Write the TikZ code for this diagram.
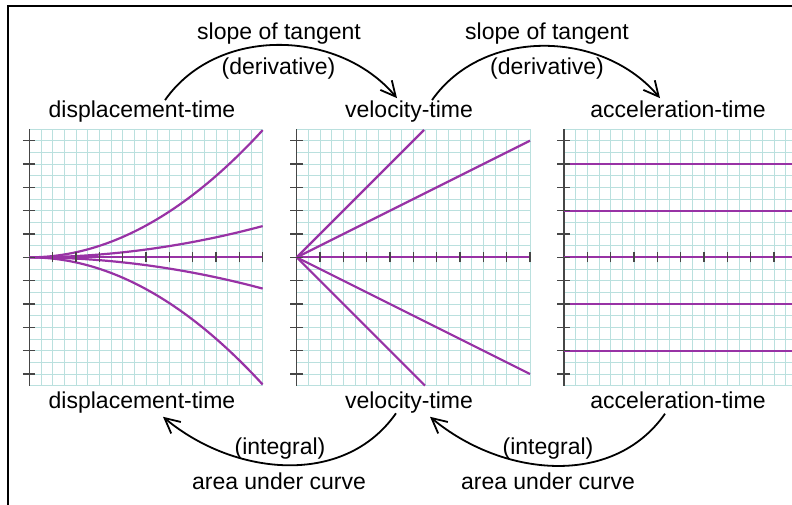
\documentclass[tikz,border=0pt]{standalone}
\usepackage{fontspec}
\setmainfont{Liberation Sans}
\usetikzlibrary{arrows.meta}
\definecolor{gridc}{RGB}{186,224,222}
\definecolor{curvec}{RGB}{152,50,165}
\definecolor{axisc}{RGB}{70,70,70}
\begin{document}
\begin{tikzpicture}[x=1pt,y=-1pt,
  lab/.style={font=\fontsize{23}{27}\selectfont, inner sep=0pt, anchor=base},
  arcline/.style={line width=1.8pt, -{Straight Barb[length=15pt,width=15pt]}},
  gridline/.style={gridc, line width=0.75pt},
  curve/.style={curvec, line width=2.2pt},
  axisline/.style={axisc, line width=1.3pt},
  tickline/.style={axisc, line width=1.1pt}]
\useasboundingbox (0,0) rectangle (792,504);
\clip (0,0) rectangle (792,504);
% grids and axes
\foreach \ox in {29.33,296.67,564} {
  \begin{scope}[shift={(\ox,257.33)}, x=23.333pt, y=23.333pt]
    \foreach \i in {0,...,20} \draw[gridline] (\i/2,-5.5) -- (\i/2,5.5);
    \foreach \j in {-11,...,11} \draw[gridline] (0,\j/2) -- (10,\j/2);
    \draw[axisline] (0,-5.5) -- (0,5.5);
  \end{scope}
}
% graph 1: displacement-time
\begin{scope}[shift={(29.33,257.33)}, x=23.333pt, y=23.333pt]
  \draw[curve] plot[domain=0:10, smooth, samples=40] (\x, {0.0545*\x*\x});
  \draw[curve] plot[domain=0:10, smooth, samples=40] (\x, {0.0134*\x*\x});
  \draw[curve] (0,0) -- (10,0);
  \draw[curve] plot[domain=0:10, smooth, samples=40] (\x, {-0.0134*\x*\x});
  \draw[curve] plot[domain=0:10, smooth, samples=40] (\x, {-0.0545*\x*\x});
  \foreach \k in {-5,...,5} \draw[tickline] (-0.28,\k) -- (0.25,\k);
  \foreach \k in {1,...,10} \draw[tickline] (\k,-0.22) -- (\k,0.22);
\end{scope}
% graph 2: velocity-time
\begin{scope}[shift={(296.67,257.33)}, x=23.333pt, y=23.333pt]
  \draw[curve] (0,0) -- (5.46,5.46);
  \draw[curve] (0,0) -- (10,5);
  \draw[curve] (0,0) -- (10,0);
  \draw[curve] (0,0) -- (10,-5);
  \draw[curve] (0,0) -- (5.5,-5.5);
  \foreach \k in {-5,...,5} \draw[tickline] (-0.28,\k) -- (0.25,\k);
  \foreach \k in {1,...,10} \draw[tickline] (\k,-0.22) -- (\k,0.22);
\end{scope}
% graph 3: acceleration-time
\begin{scope}[shift={(564,257.33)}, x=23.333pt, y=23.333pt]
  \foreach \v in {4,2,0,-2,-4} \draw[curve] (0,\v) -- (10,\v);
  \foreach \k in {-5,...,5} \draw[tickline] (-0.28,\k) -- (0.25,\k);
  \foreach \k in {1,...,10} \draw[tickline] (\k,-0.22) -- (\k,0.22);
\end{scope}
% border
\draw[line width=2.3pt] (8.3,520) -- (8.3,6) -- (800,6);
% labels
\node[lab] (dt1) at (142,117) {displacement-time};
\node[lab] (vt1) at (409,117) {velocity-time};
\node[lab] (at1) at (678,117) {acceleration-time};
\node[lab] (dt2) at (142,408.3) {displacement-time};
\node[lab] (vt2) at (409,408.3) {velocity-time};
\node[lab] (at2) at (678,408.3) {acceleration-time};
\node[lab] (s1) at (279,39.3) {slope of tangent};
\node[lab] (d1) at (278.5,74) {(derivative)};
\node[lab] (s2) at (547,39.3) {slope of tangent};
\node[lab] (d2) at (547,74) {(derivative)};
\node[lab] (i1) at (280,454) {(integral)};
\node[lab] (a1) at (279,489.3) {area under curve};
\node[lab] (i2) at (548,454) {(integral)};
\node[lab] (a2) at (548,489.3) {area under curve};
% arcs
\draw[arcline] ([xshift=23pt]dt1.north) to[out=55,in=130] ([xshift=-12pt,yshift=2pt]vt1.north);
\draw[arcline] ([xshift=23pt]vt1.north) to[out=55,in=130] ([xshift=-18pt,yshift=2pt]at1.north);
\draw[arcline] ([xshift=-13pt]vt2.south) to[out=235,in=-40] ([xshift=21pt,yshift=-3.5pt]dt2.south);
\draw[arcline] ([xshift=-13pt,yshift=-5pt]at2.south) to[out=235,in=-40] ([xshift=21pt,yshift=-3.5pt]vt2.south);
\end{tikzpicture}
\end{document}
